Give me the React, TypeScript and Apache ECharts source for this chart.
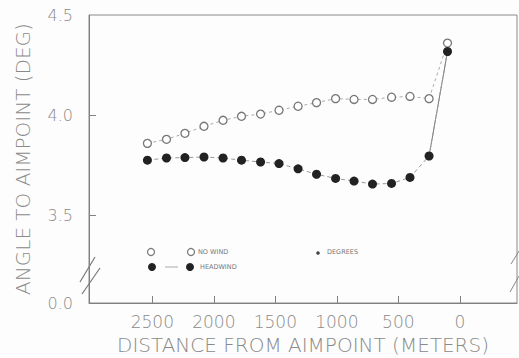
import React, { useEffect, useRef } from "react";
import * as echarts from "echarts";

const distances = [2540, 2385, 2235, 2080, 1925, 1775, 1620, 1470, 1315, 1165, 1010, 860, 710, 555, 405, 250, 100];
const noWind = [3.86, 3.88, 3.91, 3.945, 3.975, 3.995, 4.006, 4.025, 4.045, 4.063, 4.083, 4.079, 4.079, 4.09, 4.094, 4.083, 4.36];
const headwind = [3.776, 3.787, 3.789, 3.792, 3.787, 3.776, 3.767, 3.759, 3.733, 3.706, 3.685, 3.672, 3.657, 3.66, 3.69, 3.797, 4.318];
const xTicks = [0, 500, 1000, 1500, 2000, 2500];
const yTicks = [3.064, 3.5, 4.0, 4.5];
const yTickLabels = ["0.0", "3.5", "4.0", "4.5"];

const FONT = "DejaVu Sans";
const TXT = "#8a8a8a";
const LINE = "#808080";

export default function App() {
  const ref = useRef<HTMLDivElement>(null);
  useEffect(() => {
    const chart = echarts.init(ref.current!, null, { renderer: "svg" });
    const pts = (ys: number[], from: number, to: number) =>
      distances.slice(from, to).map((d, i) => [d, ys[from + i]]);
    const n = distances.length;
    chart.setOption({
      animation: false,
      backgroundColor: "#fdfdfd",
      grid: {
        left: 89,
        right: 2,
        top: 15,
        bottom: 55,
        show: true,
        borderColor: "#8a8a8a",
        borderWidth: 1,
        containLabel: false,
        outerBoundsMode: "none",
      },
      xAxis: {
        type: "value",
        inverse: true,
        min: -465,
        max: 3015,
        name: "DISTANCE FROM AIMPOINT (METERS)",
        nameLocation: "middle",
        nameGap: 32,
        nameTextStyle: { fontFamily: FONT, fontSize: 20, fontWeight: 200, color: TXT, lineHeight: 20 },
        axisLine: { show: true, onZero: false, lineStyle: { color: LINE } },
        axisTick: { show: true, inside: true, length: 7, customValues: xTicks, lineStyle: { color: LINE } },
        axisLabel: {
          customValues: xTicks,
          fontFamily: FONT,
          fontSize: 17,
          fontWeight: 200,
          color: TXT,
          margin: 10,
          formatter: (v: number) => String(Math.round(v)),
        },
        splitLine: { show: false },
      },
      yAxis: {
        type: "value",
        min: 3.064,
        max: 4.5,
        name: "ANGLE TO AIMPOINT (DEG)",
        nameLocation: "middle",
        nameGap: 56,
        nameRotate: 90,
        nameTextStyle: { fontFamily: FONT, fontSize: 20, fontWeight: 200, color: TXT },
        axisLine: { show: true, onZero: false, lineStyle: { color: LINE } },
        axisTick: { show: true, inside: true, length: 7, customValues: [3.5, 4.0], lineStyle: { color: LINE } },
        axisLabel: {
          customValues: yTicks,
          fontFamily: FONT,
          fontSize: 16,
          fontWeight: 200,
          color: TXT,
          margin: 16,
          formatter: (v: number) => {
            const i = yTicks.findIndex((t) => Math.abs(t - v) < 1e-6);
            return i >= 0 ? yTickLabels[i] : "";
          },
        },
        splitLine: { show: false },
      },
      series: [
        {
          type: "line",
          data: pts(noWind, 0, n),
          symbol: "circle",
          symbolSize: 8,
          itemStyle: { color: "#ffffff", borderColor: "#777", borderWidth: 1.3 },
          lineStyle: { color: "#aaa", width: 1, type: [3, 3] },
          z: 3,
        },
        {
          type: "line",
          data: pts(headwind, 0, n),
          symbol: "circle",
          symbolSize: 9,
          itemStyle: { color: "#222" },
          lineStyle: { color: "#999", width: 1, type: [4, 3] },
          z: 4,
        },
        {
          type: "line",
          data: pts(headwind, n - 2, n),
          symbol: "none",
          lineStyle: { color: "#777", width: 1 },
          z: 2,
        },
      ],
      graphic: [
        // axis break marks, left
        { type: "line", shape: { x1: 80, y1: 282, x2: 95, y2: 257 }, style: { stroke: "#777", lineWidth: 1.2 } },
        { type: "line", shape: { x1: 82, y1: 294, x2: 100, y2: 268 }, style: { stroke: "#777", lineWidth: 1.2 } },
        // axis break marks, right
        { type: "line", shape: { x1: 511, y1: 264, x2: 519, y2: 251 }, style: { stroke: "#888", lineWidth: 1 } },
        { type: "line", shape: { x1: 510, y1: 292, x2: 519, y2: 276 }, style: { stroke: "#888", lineWidth: 1 } },
        // legend
        { type: "circle", shape: { cx: 151, cy: 252, r: 3.5 }, style: { fill: "#fff", stroke: "#777", lineWidth: 1.2 } },
        { type: "circle", shape: { cx: 191, cy: 252, r: 3.5 }, style: { fill: "#fff", stroke: "#777", lineWidth: 1.2 } },
        { type: "text", x: 198, y: 252, style: { text: "NO WIND", fontFamily: FONT, fontSize: 6.5, fill: "#777", verticalAlign: "middle" } },
        { type: "circle", shape: { cx: 152, cy: 267, r: 4 }, style: { fill: "#222" } },
        { type: "line", shape: { x1: 165, y1: 267, x2: 178, y2: 267 }, style: { stroke: "#aaa", lineWidth: 1 } },
        { type: "circle", shape: { cx: 190, cy: 267, r: 4 }, style: { fill: "#222" } },
        { type: "text", x: 200, y: 267, style: { text: "HEADWIND", fontFamily: FONT, fontSize: 6.5, fill: "#777", verticalAlign: "middle" } },
        { type: "circle", shape: { cx: 318, cy: 253, r: 1.8 }, style: { fill: "#444" } },
        { type: "text", x: 327, y: 252, style: { text: "DEGREES", fontFamily: FONT, fontSize: 6.5, fill: "#777", verticalAlign: "middle" } },
      ],
    });
    return () => chart.dispose();
  }, []);
  return <div ref={ref} style={{ width: 519, height: 358, position: "absolute", left: 0, top: 0 }} />;
}
